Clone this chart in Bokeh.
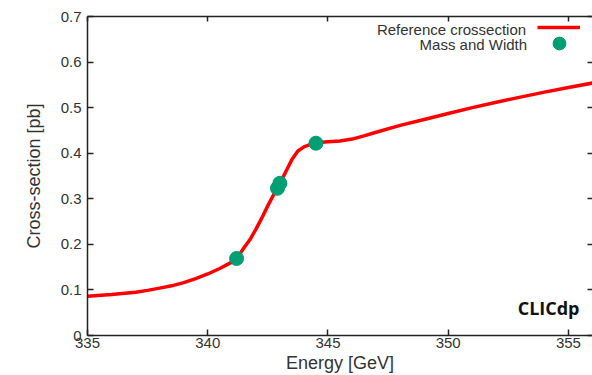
from bokeh.plotting import figure
from bokeh.models import (Range1d, LinearAxis, FixedTicker, Label, Legend, LegendItem)
from bokeh.embed import file_html
from bokeh.resources import INLINE

# ---- data ----
energy = [335, 336, 337, 337.5, 338, 338.5, 339, 339.5, 340, 340.5, 341, 341.25, 341.5, 341.75,
          342, 342.25, 342.5, 342.75, 343, 343.25, 343.5, 343.75, 344, 344.25,
          344.5, 344.75, 345, 345.5, 346, 346.5, 347, 348, 349, 350, 351, 352, 353, 354, 355, 356]
xsec = [0.086, 0.090, 0.095, 0.099, 0.104, 0.109, 0.116, 0.125, 0.135, 0.147, 0.161, 0.172, 0.192, 0.210,
        0.233, 0.258, 0.285, 0.310, 0.333, 0.360, 0.386, 0.405, 0.414, 0.419,
        0.422, 0.424, 0.425, 0.427, 0.431, 0.438, 0.446, 0.461, 0.474, 0.487, 0.500, 0.512, 0.523, 0.534, 0.544, 0.554]

fit_energy = [341.2, 342.9, 343.0, 344.5]
fit_xsec = [0.169, 0.323, 0.334, 0.422]

x_ticks = [335, 340, 345, 350, 355]
x_tick_labels = ["335", "340", "345", "350", "355"]
y_ticks = [0, 0.1, 0.2, 0.3, 0.4, 0.5, 0.6, 0.7]
y_tick_labels = ["0", "0.1", "0.2", "0.3", "0.4", "0.5", "0.6", "0.7"]

line_label = "Reference crossection"
dot_label = "Mass and Width"
x_title = "Energy [GeV]"
y_title = "Cross-section [pb]"
brand = "CLICdp"

RED = "#ff0000"
GREEN = "#009e73"
AX = "#222222"
TXT = "#333333"
FONT = "Liberation Sans"

p = figure(width=592, height=375, output_backend="svg", toolbar_location=None,
           x_range=Range1d(335, 356), y_range=Range1d(0, 0.7),
           min_border_left=87, min_border_right=0, min_border_top=16, min_border_bottom=0)
p.outline_line_color = None
p.xgrid.visible = False
p.ygrid.visible = False
p.background_fill_color = "white"
p.border_fill_color = "white"

def style_axis(ax, ticks, labels, standoff=4):
    ax.ticker = FixedTicker(ticks=ticks)
    ax.major_label_overrides = {t: l for t, l in zip(ticks, labels)}
    ax.major_tick_in = 6
    ax.major_tick_out = 0
    ax.minor_tick_in = 0
    ax.minor_tick_out = 0
    ax.axis_line_color = AX
    ax.axis_line_width = 1.5
    ax.major_tick_line_color = AX
    ax.major_tick_line_width = 1.5
    ax.major_label_text_font = FONT
    ax.major_label_text_font_size = "15px"
    ax.major_label_text_color = TXT
    ax.major_label_standoff = standoff
    ax.axis_label_text_font = FONT
    ax.axis_label_text_font_size = "18px"
    ax.axis_label_text_font_style = "normal"
    ax.axis_label_text_color = TXT

xa = p.xaxis[0]
style_axis(xa, x_ticks, x_tick_labels, standoff=2)
xa.axis_label = x_title
xa.axis_label_standoff = 2

ya = p.yaxis[0]
style_axis(ya, y_ticks, y_tick_labels, standoff=6)
ya.axis_label = y_title
ya.axis_label_standoff = 14

# mirrored ticks (gnuplot style), no labels
top = LinearAxis()
style_axis(top, x_ticks, ["" for _ in x_ticks], standoff=0)
top.major_tick_in = 5
p.add_layout(top, "above")

right = LinearAxis()
style_axis(right, y_ticks, ["" for _ in y_ticks], standoff=0)
right.major_tick_in = 5
right.axis_line_color = None
p.add_layout(right, "right")

r_line = p.line(energy, xsec, line_color=RED, line_width=3.5)
r_dots = p.scatter(fit_energy, fit_xsec, size=14, fill_color=GREEN, line_color=GREEN)

# legend texts (gnuplot style: text on the left, sample on the right)
p.add_layout(Label(x=353.24, y=0.671, text=line_label, text_align="right",
                   text_baseline="alphabetic", text_font=FONT,
                   text_font_size="15px", text_color=TXT))
p.add_layout(Label(x=353.28, y=0.638, text=dot_label, text_align="right",
                   text_baseline="alphabetic", text_font=FONT,
                   text_font_size="15px", text_color=TXT))

def sample_legend(renderer, gw, gh, loc):
    lg = Legend(items=[LegendItem(label=" ", renderers=[renderer])], location=loc,
                glyph_width=gw, glyph_height=gh, label_width=0, label_height=gh,
                label_standoff=0, label_text_font_size="1px", padding=0, margin=0,
                spacing=0, border_line_color=None, background_fill_alpha=0)
    p.add_layout(lg)

sample_legend(r_line, 43, 10, (450, 303))
sample_legend(r_dots, 32, 32, (456, 276))

p.add_layout(Label(x=355.46, y=0.060, text=brand, text_align="right",
                   text_baseline="alphabetic", text_font="Open Sans",
                   text_font_size="18px", text_font_style="bold", text_color="#111111"))

open("out.html", "w").write(file_html(p, INLINE))
